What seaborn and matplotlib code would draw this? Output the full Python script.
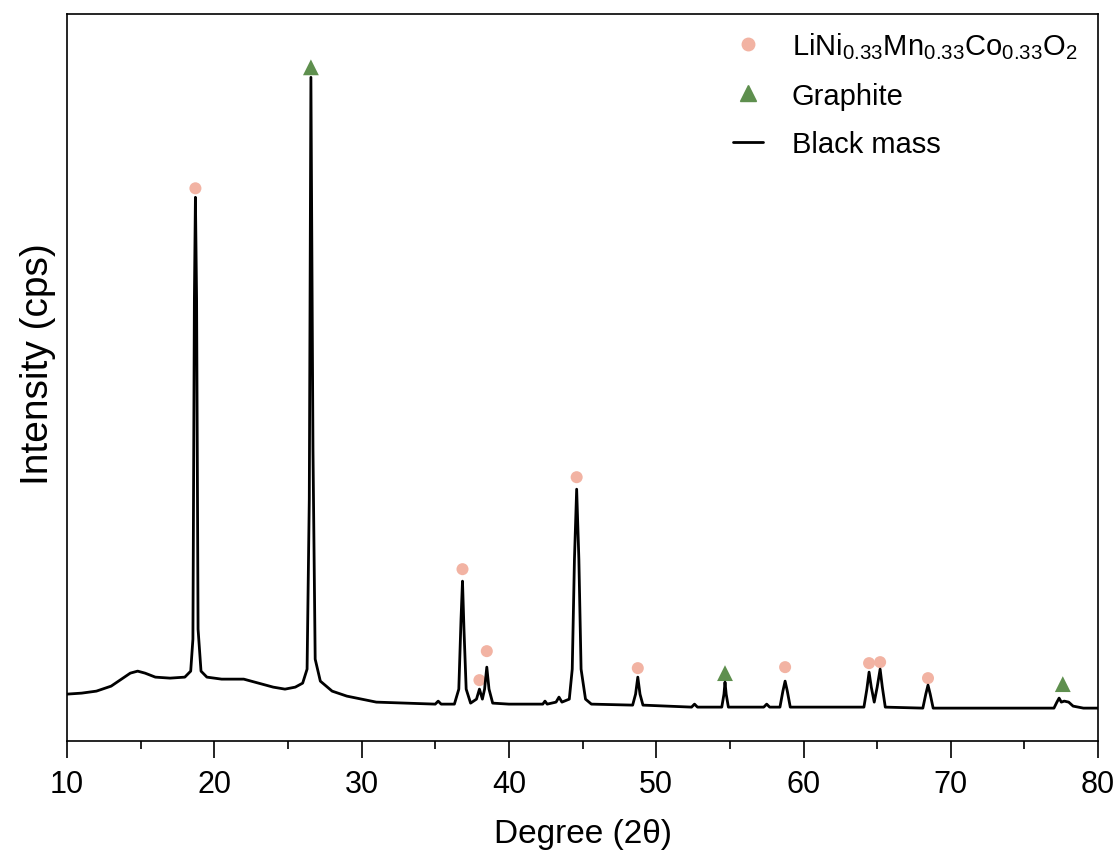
import numpy as np
import pandas as pd
import matplotlib
matplotlib.use("Agg")
import matplotlib.pyplot as plt
from matplotlib.lines import Line2D
from matplotlib.ticker import MultipleLocator
import seaborn as sns

# ---- data (intensity in cps, arbitrary scale) ----
degree = [10.0, 11.0, 12.0, 13.0, 13.7, 14.3, 14.8, 15.3, 16.0, 17.0, 18.0, 18.4,
          18.55, 18.65, 18.72, 18.8, 18.9, 19.1, 19.5, 20.5, 21.5, 22.0, 23.0, 24.0,
          24.8, 25.5, 26.0, 26.3, 26.45, 26.56, 26.7, 26.85, 27.2, 28.0, 29.0, 30.0,
          31.0, 33.0, 35.0, 35.2, 35.4, 36.3, 36.6, 36.75, 36.85, 36.95, 37.1, 37.4,
          37.8, 38.0, 38.2, 38.35, 38.5, 38.65, 38.9, 40.0, 42.3, 42.45, 42.6, 43.2,
          43.4, 43.6, 44.1, 44.3, 44.45, 44.6, 44.75, 44.9, 45.2, 45.6, 48.4, 48.6,
          48.75, 48.9, 49.1, 52.4, 52.6, 52.8, 54.45, 54.6, 54.67, 54.75, 54.9, 57.3,
          57.5, 57.7, 58.4, 58.6, 58.75, 58.9, 59.1, 64.1, 64.3, 64.45, 64.6, 64.8,
          65.0, 65.2, 65.35, 65.55, 68.1, 68.3, 68.45, 68.6, 68.8, 77.0, 77.2, 77.35,
          77.5, 77.7, 78.0, 78.3, 79.0, 80.0]
intensity = [940, 960, 1000, 1100, 1240, 1360, 1400, 1360, 1280, 1260, 1280, 1400,
             2040, 8840, 10880, 8840, 2240, 1400, 1280, 1240, 1240, 1240, 1160, 1080,
             1040, 1080, 1160, 1440, 4840, 13280, 5840, 1640, 1200, 1000, 900, 840,
             780, 760, 740, 800, 740, 740, 1040, 2440, 3200, 2240, 1040, 760,
             840, 1040, 840, 1040, 1480, 1040, 760, 740, 740, 800, 740, 780,
             880, 780, 840, 1440, 3640, 5040, 3640, 1440, 840, 740, 720, 940,
             1280, 940, 720, 680, 740, 680, 680, 940, 1180, 940, 680, 680,
             740, 680, 680, 1000, 1200, 1000, 680, 680, 1040, 1380, 1080, 780,
             1080, 1440, 1080, 680, 660, 940, 1120, 940, 660, 660, 780, 860,
             780, 800, 780, 700, 660, 660]

nmc_deg = [18.72, 36.85, 38.0, 38.5, 44.6, 48.75, 58.75, 64.45, 65.2, 68.45]
nmc_int = [11060, 3440, 1220, 1800, 5280, 1460, 1480, 1560, 1580, 1260]
gra_deg = [26.56, 54.67, 77.6]
gra_int = [13480, 1360, 1140]

xticks = [10, 20, 30, 40, 50, 60, 70, 80]
nmc_label = r"LiNi$_{0.33}$Mn$_{0.33}$Co$_{0.33}$O$_{2}$"
gra_label = "Graphite"
line_label = "Black mass"

# ---- plot ----
sns.set_style("white")
plt.rcParams["font.family"] = ["Liberation Sans", "DejaVu Sans"]
plt.rcParams["mathtext.default"] = "regular"
for k in ["text.color", "axes.labelcolor", "xtick.color", "ytick.color"]:
    plt.rcParams[k] = "black"

fig = plt.figure(figsize=(11.16, 8.53), dpi=100)
ax = fig.add_axes([0.060, 0.130, 0.924, 0.852])

df = pd.DataFrame({"degree": degree, "intensity": intensity})
sns.lineplot(data=df, x="degree", y="intensity", ax=ax, color="black",
             linewidth=2.0, estimator=None, sort=False)
sns.scatterplot(x=nmc_deg, y=nmc_int, ax=ax, color="#F2B3A3", marker="o",
                s=75, edgecolor="none")
sns.scatterplot(x=gra_deg, y=gra_int, ax=ax, color="#5E8F4E", marker="^",
                s=130, edgecolor="none")

ax.set_xlim(10, 80)
ax.set_ylim(0, 14540)
ax.set_xticks(xticks)
ax.xaxis.set_minor_locator(MultipleLocator(5))
ax.set_yticks([])
ax.tick_params(axis="x", which="major", direction="out", length=12, width=1.2,
               labelsize=22, pad=8, bottom=True, colors="black")
ax.tick_params(axis="x", which="minor", direction="out", length=6, width=1.2,
               bottom=True, colors="black")
ax.set_xlabel("Degree (2θ)", fontsize=24, labelpad=14)
ax.set_ylabel("Intensity (cps)", fontsize=28)
ax.yaxis.set_label_coords(-0.011, 0.52)
for sp in ax.spines.values():
    sp.set_visible(True)
    sp.set_color("black")
    sp.set_linewidth(1.2)

handles = [
    Line2D([], [], linestyle="none", marker="o", color="#F2B3A3", markersize=9),
    Line2D([], [], linestyle="none", marker="^", color="#5E8F4E", markersize=11),
    Line2D([], [], color="black", linewidth=2.0),
]
ax.legend(handles, [nmc_label, gra_label, line_label], loc="upper right",
          frameon=False, fontsize=21, handlelength=1.0, handletextpad=1.0,
          labelspacing=0.7, bbox_to_anchor=(1.005, 1.014))

fig.savefig("out.png", dpi=100)
